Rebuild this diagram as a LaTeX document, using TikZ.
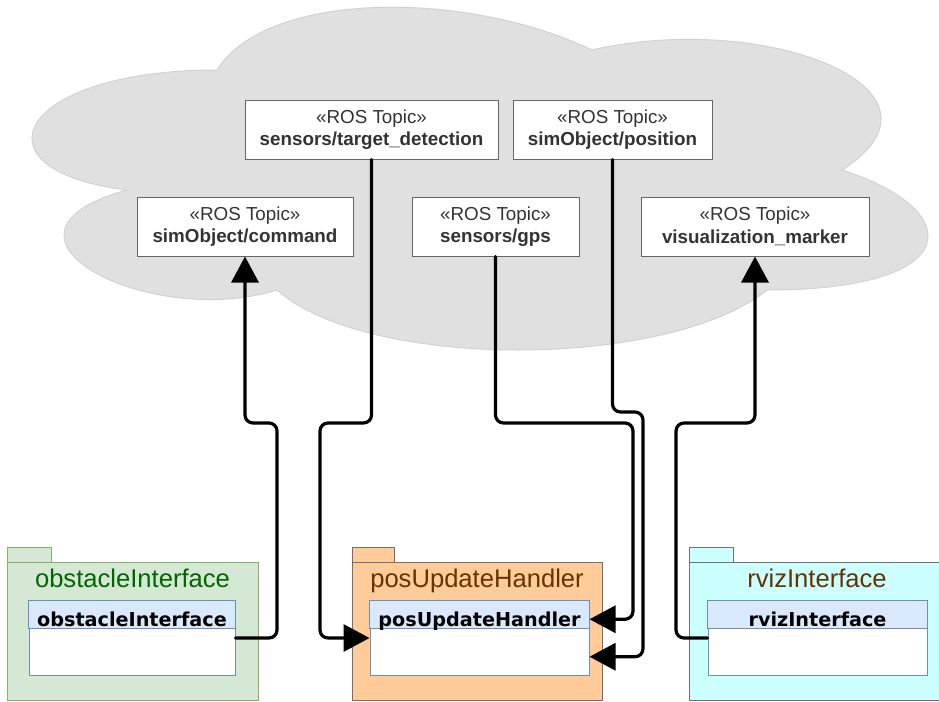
\documentclass[tikz,border=0pt]{standalone}
\usepackage{fontspec}
\setmainfont{Liberation Sans}
\newfontfamily\classfont{DejaVu Sans}
\usetikzlibrary{arrows.meta,calc}

\definecolor{cloudfill}{HTML}{E0E0E0}
\definecolor{cloudline}{HTML}{D2D2D2}
\definecolor{topicline}{HTML}{666666}
\definecolor{topictext}{HTML}{333333}
\definecolor{obsfill}{HTML}{D5E8D4}
\definecolor{obsline}{HTML}{82B366}
\definecolor{obstext}{HTML}{006600}
\definecolor{posfill}{HTML}{FFCC99}
\definecolor{rvizfill}{HTML}{CCFFFF}
\definecolor{pkgline}{HTML}{707070}
\definecolor{pkgtext}{HTML}{663300}
\definecolor{hdrfill}{HTML}{DAE8FC}
\definecolor{hdrline}{HTML}{6C8EBF}

\begin{document}
\begin{tikzpicture}[x=1pt,y=-1pt,
  topic/.style={draw=topicline, fill=white, line width=1pt, text=topictext,
    align=center, inner sep=0pt, minimum height=59pt,
    font=\fontsize{18.8}{22.6}\selectfont},
  pkgtab/.style={line width=1pt},
  pkglabel/.style={anchor=base, inner sep=0pt, font=\fontsize{25.6}{30}\selectfont},
  clsbox/.style={draw=hdrline, fill=white, line width=1pt, inner sep=0pt,
    minimum height=74pt},
  clshdr/.style={draw=hdrline, fill=hdrfill, line width=1pt},
  clstitle/.style={anchor=base, inner sep=0pt,
    font=\classfont\bfseries\fontsize{19.2}{23}\selectfont},
  conn/.style={line width=3.2pt, rounded corners=8pt, line cap=round},
  tip/.style={-{Triangle[length=26pt,width=27pt]}}
]
\useasboundingbox (0,0) rectangle (939,701);

% cloud holding the ROS topics
\path[fill=cloudfill, draw=cloudline, line width=1pt]
  (217,70) .. controls (17,70) and (-33,170) .. (127,190)
  .. controls (-33,234) and (147,330) .. (277,290)
  .. controls (367,370) and (667,370) .. (767,290)
  .. controls (967,290) and (967,210) .. (842,170)
  .. controls (967,90) and (767,10) .. (592,50)
  .. controls (467,-10) and (267,-10) .. (217,70) -- cycle;

% ROS topics
\node[topic, minimum width=253pt] (tdet) at (371.5,129.5)
  {«ROS Topic»\\\textbf{sensors/target\_detection}};
\node[topic, minimum width=199pt] (spos) at (612.5,129.5)
  {«ROS Topic»\\\textbf{simObject/position}};
\node[topic, minimum width=216pt] (scmd) at (245,226.5)
  {«ROS Topic»\\\textbf{simObject/command}};
\node[topic, minimum width=167pt] (gps) at (495.5,226.5)
  {«ROS Topic»\\\textbf{sensors/gps}};
\node[topic, minimum width=228pt] (vis) at (755,226.5)
  {«ROS Topic»\\\textbf{visualization\_marker}};

% package obstacleInterface
\draw[pkgtab, fill=obsfill, draw=obsline] (7,547) rectangle (51,562);
\draw[pkgtab, fill=obsfill, draw=obsline] (7,562) rectangle (258,700);
\node[pkglabel, text=obstext] (obsPkgLabel) at (132.5,587) {obstacleInterface};
\node[clsbox, minimum width=206pt] (obsCls) at (132,638) {};
\draw[clshdr] (obsCls.north west) rectangle ($(obsCls.north east)+(0,28)$);
\node[clstitle] (obsTitle) at (132,626) {obstacleInterface};

% package posUpdateHandler
\draw[pkgtab, fill=posfill, draw=pkgline] (352,547) rectangle (394,562);
\draw[pkgtab, fill=posfill, draw=pkgline] (352,562) rectangle (602,700);
\node[pkglabel, text=pkgtext] (posPkgLabel) at (477,587) {posUpdateHandler};
\node[clsbox, minimum width=219pt] (posCls) at (479.5,638) {};
\draw[clshdr] (posCls.north west) rectangle ($(posCls.north east)+(0,28)$);
\node[clstitle] (posTitle) at (479.5,626) {posUpdateHandler};

% package rvizInterface
\draw[pkgtab, fill=rvizfill, draw=pkgline] (689,547) rectangle (733,562);
\draw[pkgtab, fill=rvizfill, draw=pkgline] (689,562) rectangle (945,700);
\node[pkglabel, text=pkgtext] (rvizPkgLabel) at (817,587) {rvizInterface};
\node[clsbox, minimum width=219pt] (rvizCls) at (817.5,638) {};
\draw[clshdr] (rvizCls.north west) rectangle ($(rvizCls.north east)+(0,28)$);
\node[clstitle] (rvizTitle) at (817.5,626) {rvizInterface};

% publish / subscribe connectors
\draw[conn, tip] (obsCls.east) -| (277,423) -| (scmd.south);
\draw[conn, tip] (tdet.south) |- (320,423) |- (posCls.west);
\draw[conn, tip] (gps.south) |- (633,423)
  |- ($(posCls.north east)!0.25!(posCls.south east)$);
\draw[conn, tip] (spos.south) |- (643,412)
  |- ($(posCls.north east)!0.75!(posCls.south east)$);
\draw[conn, tip] (rvizCls.west) -| (676,423) -| (vis.south);
\end{tikzpicture}
\end{document}
